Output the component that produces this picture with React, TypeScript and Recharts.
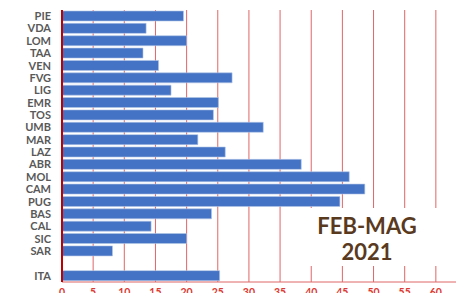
import { BarChart, Bar, XAxis, YAxis, CartesianGrid } from "recharts";

const regions = [
  "PIE", "VDA", "LOM", "TAA", "VEN", "FVG", "LIG", "EMR", "TOS", "UMB", "MAR",
  "LAZ", "ABR", "MOL", "CAM", "PUG", "BAS", "CAL", "SIC", "SAR", "", "ITA",
];
const values = [
  19.5, 13.5, 20.0, 13.0, 15.5, 27.3, 17.5, 25.1, 24.3, 32.3, 21.8,
  26.2, 38.4, 46.1, 48.6, 44.6, 24.0, 14.3, 20.0, 8.1, null, 25.3,
];
const xTicks = [0, 5, 10, 15, 20, 25, 30, 35, 40, 45, 50, 55, 60, 65];
const title = ["FEB-MAG", "2021"];

const data = regions.map((region, i) => ({ region, value: values[i] }));

const RED = "#e06666";

export default function App() {
  return (
    <div
      style={{
        margin: -8,
        position: "relative",
        width: 464,
        height: 301,
        overflow: "hidden",
        background: "#fff",
        fontFamily: "Lato, sans-serif",
      }}
    >
      <BarChart
        width={470}
        height={301}
        data={data}
        layout="vertical"
        margin={{ top: 10, right: 3, left: 0, bottom: 0 }}
        barSize={10}
      >
        <CartesianGrid horizontal={false} vertical stroke={RED} />
        <XAxis
          type="number"
          domain={[0, 65]}
          ticks={xTicks}
          height={19}
          axisLine={{ stroke: RED }}
          tickLine={false}
          tickMargin={1}
          interval={0}
          tick={{ fill: "#dc3a33", fontSize: 10.5, fontWeight: 700, fontFamily: "Lato" }}
        />
        <XAxis
          xAxisId="top"
          orientation="top"
          type="number"
          domain={[0, 65]}
          ticks={xTicks}
          height={0}
          axisLine={{ stroke: RED }}
          tickLine={false}
          tick={false}
        />
        <YAxis
          type="category"
          dataKey="region"
          width={62}
          interval={0}
          axisLine={{ stroke: "#c00000", strokeWidth: 2 }}
          tickLine={false}
          tickSize={0}
          tickMargin={11}
          tick={{ fill: "#595959", fontSize: 11, fontWeight: 700, fontFamily: "Lato" }}
        />
        <Bar
          dataKey="value"
          fill="#4472c4"
          stroke="#b4c7e7"
          strokeWidth={0.6}
          isAnimationActive={false}
        />
      </BarChart>
      <div
        style={{
          position: "absolute",
          left: 290,
          top: 208,
          width: 152,
          height: 58,
          background: "#fff",
          color: "#5a3a1e",
          fontFamily: "Lato, sans-serif",
          fontWeight: 700,
          fontSize: 22,
          lineHeight: "26px",
          textAlign: "center",
          display: "flex",
          flexDirection: "column",
          justifyContent: "center",
          paddingLeft: 2,
          paddingTop: 3,
          boxSizing: "border-box",
        }}
      >
        {title.map((t) => (
          <div key={t}>{t}</div>
        ))}
      </div>
    </div>
  );
}
